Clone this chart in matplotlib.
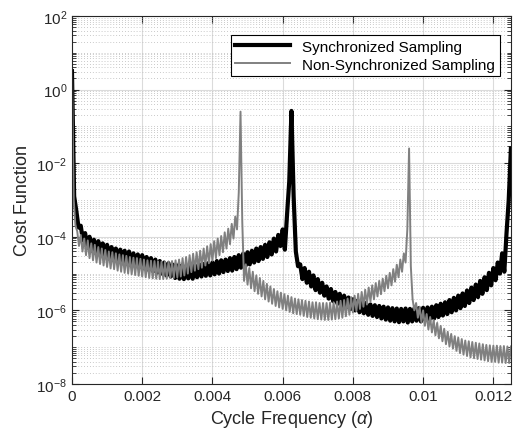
import numpy as np
import matplotlib
matplotlib.use('Agg')
import matplotlib.pyplot as plt
from matplotlib.ticker import LogLocator, NullFormatter

# cycle-frequency axes for each series (sampling steps read from the peaks)
alpha_sync = np.linspace(0, 0.0125, 201)
alpha_nonsync = np.linspace(0, 0.0125, 251)

# log10 of cost function
sync_log10 = [
    0.50, -2.90, -3.30, -3.75, -3.70, -4.10, -3.90, -4.30, -4.00, -4.38,
    -4.08, -4.45, -4.12, -4.50, -4.18, -4.55, -4.22, -4.60, -4.28, -4.64,
    -4.32, -4.68, -4.35, -4.72, -4.38, -4.74, -4.40, -4.78, -4.45, -4.80,
    -4.48, -4.82, -4.50, -4.86, -4.55, -4.90, -4.58, -4.94, -4.62, -4.97,
    -4.66, -5.00, -4.70, -5.05, -4.72, -5.08, -4.76, -5.12, -4.78, -5.14,
    -4.78, -5.15, -4.80, -5.13, -4.78, -5.14, -4.77, -5.10, -4.75, -5.08,
    -4.74, -5.06, -4.72, -5.05, -4.70, -5.02, -4.66, -5.00, -4.64, -4.96,
    -4.62, -4.93, -4.58, -4.92, -4.55, -4.88, -4.50, -4.84, -4.46, -4.80,
    -4.42, -4.75, -4.38, -4.70, -4.32, -4.66, -4.28, -4.60, -4.22, -4.55,
    -4.15, -4.48, -4.05, -4.40, -3.95, -4.25, -3.80, -4.35, -3.40, -2.50,
    -0.58, -2.90, -4.40, -4.80, -4.75, -5.15, -4.85, -5.25, -4.95, -5.35,
    -5.05, -5.45, -5.15, -5.52, -5.25, -5.60, -5.35, -5.68, -5.42, -5.75,
    -5.50, -5.82, -5.55, -5.88, -5.60, -5.92, -5.65, -5.96, -5.70, -6.00,
    -5.74, -6.05, -5.78, -6.08, -5.80, -6.12, -5.84, -6.15, -5.86, -6.18,
    -5.88, -6.22, -5.90, -6.25, -5.92, -6.28, -5.94, -6.30, -5.95, -6.32,
    -5.96, -6.30, -5.95, -6.33, -5.96, -6.30, -5.95, -6.28, -5.94, -6.30,
    -5.93, -6.26, -5.92, -6.24, -5.90, -6.22, -5.86, -6.18, -5.82, -6.14,
    -5.78, -6.10, -5.72, -6.05, -5.66, -6.00, -5.60, -5.94, -5.54, -5.88,
    -5.46, -5.80, -5.38, -5.72, -5.30, -5.64, -5.20, -5.55, -5.10, -5.45,
    -4.98, -5.32, -4.85, -5.18, -4.70, -5.00, -4.45, -4.95, -3.90, -3.00,
    -1.60,
]

nonsync_log10 = [
    0.62, -3.00, -3.70, -3.85, -4.25, -3.95, -4.40, -4.05, -4.50, -4.10,
    -4.58, -4.18, -4.64, -4.22, -4.70, -4.28, -4.74, -4.32, -4.78, -4.36,
    -4.82, -4.40, -4.86, -4.42, -4.88, -4.45, -4.92, -4.48, -4.95, -4.50,
    -4.98, -4.52, -5.00, -4.55, -5.02, -4.57, -5.04, -4.58, -5.06, -4.60,
    -5.08, -4.62, -5.10, -4.64, -5.12, -4.65, -5.13, -4.66, -5.14, -4.67,
    -5.15, -4.68, -5.15, -4.68, -5.14, -4.67, -5.12, -4.66, -5.12, -4.64,
    -5.10, -4.62, -5.08, -4.58, -5.05, -4.55, -5.00, -4.50, -4.96, -4.46,
    -4.92, -4.42, -4.88, -4.38, -4.84, -4.32, -4.78, -4.26, -4.72, -4.20,
    -4.65, -4.12, -4.58, -4.05, -4.50, -3.98, -4.42, -3.88, -4.32, -3.78,
    -4.20, -3.65, -4.05, -3.45, -3.80, -2.80, -0.60, -3.60, -5.20, -4.75,
    -5.30, -4.85, -5.40, -4.95, -5.48, -5.05, -5.55, -5.12, -5.62, -5.20,
    -5.70, -5.28, -5.76, -5.35, -5.82, -5.42, -5.88, -5.48, -5.92, -5.52,
    -5.96, -5.56, -6.00, -5.60, -6.04, -5.64, -6.08, -5.68, -6.10, -5.70,
    -6.12, -5.72, -6.15, -5.74, -6.18, -5.76, -6.20, -5.78, -6.22, -5.78,
    -6.24, -5.80, -6.25, -5.80, -6.26, -5.80, -6.26, -5.79, -6.25, -5.78,
    -6.24, -5.76, -6.22, -5.74, -6.20, -5.72, -6.16, -5.68, -6.12, -5.64,
    -6.06, -5.60, -6.02, -5.55, -5.96, -5.50, -5.90, -5.44, -5.84, -5.38,
    -5.76, -5.32, -5.70, -5.26, -5.62, -5.20, -5.56, -5.14, -5.48, -5.06,
    -5.40, -4.98, -5.32, -4.88, -5.22, -4.76, -5.10, -4.62, -4.95, -4.45,
    -4.70, -3.80, -1.60, -4.80, -5.70, -6.00, -5.80, -6.20, -5.90, -6.32,
    -6.00, -6.42, -6.10, -6.52, -6.18, -6.60, -6.26, -6.68, -6.34, -6.76,
    -6.42, -6.84, -6.50, -6.92, -6.58, -6.98, -6.64, -7.04, -6.70, -7.10,
    -6.74, -7.16, -6.78, -7.20, -6.82, -7.24, -6.84, -7.28, -6.86, -7.30,
    -6.88, -7.32, -6.90, -7.34, -6.92, -7.36, -6.94, -7.38, -6.95, -7.40,
    -6.96, -7.40, -6.96, -7.42, -6.97, -7.42, -6.97, -7.43, -6.98, -7.43,
    -6.98,
]

xtick_vals = [0, 0.002, 0.004, 0.006, 0.008, 0.01, 0.012]
xtick_labels = ['0', '0.002', '0.004', '0.006', '0.008', '0.01', '0.012']

plt.rcParams['font.family'] = ['Liberation Sans', 'DejaVu Sans']
plt.rcParams['mathtext.fontset'] = 'custom'
plt.rcParams['mathtext.rm'] = 'Liberation Sans'
plt.rcParams['mathtext.it'] = 'Liberation Sans:italic'

fig = plt.figure(figsize=(5.14, 4.35), dpi=100)
ax = fig.add_axes([0.140, 0.115, 0.854, 0.846])

ax.semilogy(alpha_sync, 10 ** np.array(sync_log10), color='black', linewidth=3,
            label='Synchronized Sampling')
ax.semilogy(alpha_nonsync, 10 ** np.array(nonsync_log10), color=(0.5, 0.5, 0.5),
            linewidth=1.4, label='Non-Synchronized Sampling')

ax.set_xlim(0, 0.0125)
ax.set_ylim(1e-8, 1e2)
ax.set_yticks([1e-8, 1e-6, 1e-4, 1e-2, 1e0, 1e2])
ax.yaxis.set_minor_locator(LogLocator(base=10, subs=np.arange(1, 10), numticks=100))
ax.yaxis.set_minor_formatter(NullFormatter())
ax.set_xticks(xtick_vals)
ax.set_xticklabels(xtick_labels)

ax.grid(True, which='major', color=(0.86, 0.86, 0.86), linewidth=0.8, linestyle='-')
ax.grid(True, which='minor', axis='y', color=(0.72, 0.72, 0.72), linewidth=0.6,
        linestyle=(0, (1, 2.5)))
ax.set_axisbelow(True)

ax.tick_params(which='both', direction='in', top=True, right=True,
               labelsize=11, colors=(0.15, 0.15, 0.15))
ax.tick_params(which='major', length=5)
ax.tick_params(which='minor', length=3)
for s in ax.spines.values():
    s.set_color((0.15, 0.15, 0.15))
    s.set_linewidth(0.8)

ax.set_xlabel(r'Cycle Frequency ($\alpha$)', fontsize=13, color=(0.15, 0.15, 0.15))
ax.set_ylabel('Cost Function', fontsize=13, color=(0.15, 0.15, 0.15))

leg = ax.legend(loc='upper right', bbox_to_anchor=(0.975, 0.948), fontsize=11,
                fancybox=False, framealpha=1, edgecolor='black', borderaxespad=0,
                handlelength=3.6, borderpad=0.3, labelspacing=0.25)
leg.get_frame().set_linewidth(0.8)

fig.savefig('out.png', dpi=100)
